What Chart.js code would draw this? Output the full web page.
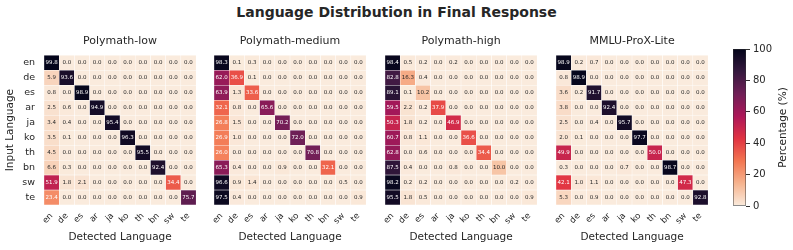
<!DOCTYPE html>
<html>
<head>
<meta charset="utf-8">
<script src="https://cdn.jsdelivr.net/npm/chart.js@4.4.0/dist/chart.umd.min.js"></script>
<style>
  body { margin: 0; background: #fff; width: 793px; height: 250px; position: relative; overflow: hidden; }
  canvas { position: absolute; }
  #title { position: absolute; top: 4px; left: 0; width: 793px; text-align: center; font: bold 14px "DejaVu Sans"; color: #262626; }
</style>
</head>
<body>
<div id="title">Language Distribution in Final Response</div>
<canvas id="c0" width="202" height="222"></canvas>
<canvas id="c1" width="202" height="222"></canvas>
<canvas id="c2" width="202" height="222"></canvas>
<canvas id="c3" width="202" height="222"></canvas>
<canvas id="cb" width="60" height="175"></canvas>
<script>
const languages = ['en', 'de', 'es', 'ar', 'ja', 'ko', 'th', 'bn', 'sw', 'te'];
const panelTitles = ['Polymath-low', 'Polymath-medium', 'Polymath-high', 'MMLU-ProX-Lite'];

const polymathLow = [
  [99.8, 0.0, 0.0, 0.0, 0.0, 0.0, 0.0, 0.0, 0.0, 0.0],
  [5.9, 93.6, 0.0, 0.0, 0.0, 0.0, 0.0, 0.0, 0.0, 0.0],
  [0.8, 0.0, 98.9, 0.0, 0.0, 0.0, 0.0, 0.0, 0.0, 0.0],
  [2.5, 0.6, 0.0, 94.9, 0.0, 0.0, 0.0, 0.0, 0.0, 0.0],
  [3.4, 0.4, 0.0, 0.0, 95.4, 0.0, 0.0, 0.0, 0.0, 0.0],
  [3.5, 0.1, 0.0, 0.0, 0.0, 96.3, 0.0, 0.0, 0.0, 0.0],
  [4.5, 0.0, 0.0, 0.0, 0.0, 0.0, 95.5, 0.0, 0.0, 0.0],
  [6.6, 0.3, 0.0, 0.0, 0.0, 0.0, 0.0, 92.4, 0.0, 0.0],
  [51.9, 1.8, 2.1, 0.0, 0.0, 0.0, 0.0, 0.0, 34.4, 0.0],
  [23.4, 0.0, 0.0, 0.0, 0.0, 0.0, 0.0, 0.0, 0.0, 75.7],
];
const polymathMedium = [
  [98.3, 0.1, 0.3, 0.0, 0.0, 0.0, 0.0, 0.0, 0.0, 0.0],
  [62.0, 36.9, 0.1, 0.0, 0.0, 0.0, 0.0, 0.0, 0.0, 0.0],
  [63.9, 1.3, 33.6, 0.0, 0.0, 0.0, 0.0, 0.0, 0.0, 0.0],
  [32.1, 0.8, 0.0, 65.6, 0.0, 0.0, 0.0, 0.0, 0.0, 0.0],
  [26.8, 1.5, 0.0, 0.0, 70.2, 0.0, 0.0, 0.0, 0.0, 0.0],
  [26.9, 1.0, 0.0, 0.0, 0.0, 72.0, 0.0, 0.0, 0.0, 0.0],
  [26.0, 0.0, 0.0, 0.0, 0.0, 0.0, 70.8, 0.0, 0.0, 0.0],
  [65.3, 0.4, 0.0, 0.0, 0.9, 0.0, 0.0, 32.1, 0.0, 0.0],
  [96.6, 0.9, 1.4, 0.0, 0.0, 0.0, 0.0, 0.0, 0.5, 0.0],
  [97.5, 0.4, 0.0, 0.0, 0.0, 0.0, 0.0, 0.0, 0.0, 0.9],
];
const polymathHigh = [
  [98.4, 0.5, 0.2, 0.0, 0.2, 0.0, 0.0, 0.0, 0.0, 0.0],
  [82.8, 16.3, 0.4, 0.0, 0.0, 0.0, 0.0, 0.0, 0.0, 0.0],
  [89.1, 0.1, 10.2, 0.0, 0.0, 0.0, 0.0, 0.0, 0.0, 0.0],
  [59.5, 2.2, 0.2, 37.9, 0.0, 0.0, 0.0, 0.0, 0.0, 0.0],
  [50.3, 1.8, 0.2, 0.0, 46.9, 0.0, 0.0, 0.0, 0.0, 0.0],
  [60.7, 0.8, 1.1, 0.0, 0.0, 36.6, 0.0, 0.0, 0.0, 0.0],
  [62.8, 0.0, 0.6, 0.0, 0.0, 0.0, 34.4, 0.0, 0.0, 0.0],
  [87.5, 0.4, 0.0, 0.0, 0.8, 0.0, 0.0, 10.0, 0.0, 0.0],
  [98.2, 0.2, 0.2, 0.0, 0.0, 0.0, 0.0, 0.0, 0.2, 0.0],
  [95.5, 1.8, 0.5, 0.0, 0.0, 0.0, 0.0, 0.0, 0.0, 0.9],
];
const mmluProxLite = [
  [98.9, 0.2, 0.7, 0.0, 0.0, 0.0, 0.0, 0.0, 0.0, 0.0],
  [0.8, 98.9, 0.0, 0.0, 0.0, 0.0, 0.0, 0.0, 0.0, 0.0],
  [3.6, 0.2, 91.7, 0.0, 0.0, 0.0, 0.0, 0.0, 0.0, 0.0],
  [3.8, 0.0, 0.0, 92.4, 0.0, 0.0, 0.0, 0.0, 0.0, 0.0],
  [2.5, 0.0, 0.4, 0.0, 95.7, 0.0, 0.0, 0.0, 0.0, 0.0],
  [2.0, 0.1, 0.0, 0.0, 0.0, 97.7, 0.0, 0.0, 0.0, 0.0],
  [49.9, 0.0, 0.0, 0.0, 0.0, 0.0, 50.0, 0.0, 0.0, 0.0],
  [0.3, 0.0, 0.0, 0.0, 0.7, 0.0, 0.0, 98.7, 0.0, 0.0],
  [42.1, 1.0, 1.1, 0.0, 0.0, 0.0, 0.0, 0.0, 47.3, 0.0],
  [5.3, 0.0, 0.9, 0.0, 0.0, 0.0, 0.0, 0.0, 0.0, 92.8],
];
const colorbarTicks = [0, 20, 40, 60, 80, 100];

const FONT = '"DejaVu Sans"';
const TEXT = '#262626';
const panelLefts = [44, 214, 385, 556];

// rocket_r, sampled
const rocketR = [
  [0, '#faebdd'], [1 / 7, '#f6b48f'], [2 / 7, '#f37651'], [3 / 7, '#e13342'],
  [4 / 7, '#ad1759'], [5 / 7, '#701f57'], [6 / 7, '#35193e'], [1, '#03051a'],
];

function hexRgb(h) {
  return [1, 3, 5].map((i) => parseInt(h.slice(i, i + 2), 16));
}

function rgbFor(v) {
  const t = Math.min(1, Math.max(0, v / 100));
  for (let i = 1; i < rocketR.length; i++) {
    if (t <= rocketR[i][0]) {
      const [t0, c0] = rocketR[i - 1];
      const [t1, c1] = rocketR[i];
      const f = (t - t0) / (t1 - t0);
      const a = hexRgb(c0);
      const b = hexRgb(c1);
      return a.map((x, k) => Math.round(x + (b[k] - x) * f));
    }
  }
  return hexRgb(rocketR[rocketR.length - 1][1]);
}

function colorFor(v) {
  const [r, g, b] = rgbFor(v);
  return `rgb(${r},${g},${b})`;
}

function textColorFor(v) {
  const lin = rgbFor(v).map((c) => {
    const s = c / 255;
    return s <= 0.03928 ? s / 12.92 : Math.pow((s + 0.055) / 1.055, 2.4);
  });
  const lum = 0.2126 * lin[0] + 0.7152 * lin[1] + 0.0722 * lin[2];
  return lum > 0.408 ? TEXT : '#ffffff';
}

function cellLabels(grid) {
  return {
    id: 'cellLabels',
    afterDatasetsDraw(chart) {
      const { ctx } = chart;
      ctx.save();
      ctx.font = `5.5px ${FONT}`;
      ctx.textAlign = 'center';
      ctx.textBaseline = 'middle';
      chart.data.datasets.forEach((ds, r) => {
        chart.getDatasetMeta(r).data.forEach((bar, j) => {
          const v = grid[r][j];
          const { x, y } = bar.getCenterPoint();
          ctx.fillStyle = textColorFor(v);
          ctx.fillText(v.toFixed(1), x, y);
        });
      });
      ctx.restore();
    },
  };
}

function createHeatmap(id, idx, title, grid) {
  const canvas = document.getElementById(id);
  canvas.style.left = `${panelLefts[idx] - 44}px`;
  canvas.style.top = '28px';
  const showY = idx === 0;

  new Chart(canvas, {
    type: 'bar',
    data: {
      labels: languages,
      datasets: grid.map((row, r) => ({
        data: row.map(() => [r, r + 1]),
        backgroundColor: row.map(colorFor),
        borderColor: '#ffffff',
        borderWidth: 0.5,
        borderSkipped: false,
        barPercentage: 1,
        categoryPercentage: 1,
        grouped: false,
      })),
    },
    options: {
      responsive: false,
      animation: false,
      layout: { padding: { right: 4 } },
      plugins: {
        legend: { display: false },
        tooltip: { enabled: false },
        title: {
          display: true,
          text: title,
          fullSize: false,
          color: TEXT,
          font: { family: FONT, size: 11, weight: 'normal' },
          padding: { top: 7, bottom: 7 },
        },
      },
      scales: {
        x: {
          grid: { display: false, drawTicks: false, tickLength: 0 },
          border: { display: false },
          ticks: {
            color: TEXT,
            font: { family: FONT, size: 8.5 },
            minRotation: 45,
            maxRotation: 45,
            autoSkip: false,
            padding: 6,
          },
          title: {
            display: true,
            text: 'Detected Language',
            color: TEXT,
            font: { family: FONT, size: 10.5 },
            padding: { top: 0, bottom: 6 },
          },
          afterFit: (s) => { s.height = 45; },
        },
        y: {
          min: 0,
          max: 10,
          reverse: true,
          grid: { display: false, drawTicks: false, tickLength: 0 },
          border: { display: false },
          afterBuildTicks: (s) => { s.ticks = languages.map((_, i) => ({ value: i + 0.5 })); },
          ticks: {
            display: showY,
            color: TEXT,
            font: { family: FONT, size: 9.5 },
            padding: 9,
            callback: (v, i) => languages[i],
          },
          title: {
            display: showY,
            text: 'Input Language',
            color: TEXT,
            font: { family: FONT, size: 10.5 },
            padding: { top: 4, bottom: 0 },
          },
          afterFit: (s) => { s.width = 44; },
        },
      },
    },
    plugins: [cellLabels(grid)],
  });
}

createHeatmap('c0', 0, panelTitles[0], polymathLow);
createHeatmap('c1', 1, panelTitles[1], polymathMedium);
createHeatmap('c2', 2, panelTitles[2], polymathHigh);
createHeatmap('c3', 3, panelTitles[3], mmluProxLite);

// colorbar
const colorbarLabel = {
  id: 'colorbarLabel',
  afterDraw(chart) {
    const { ctx, chartArea } = chart;
    ctx.save();
    ctx.translate(chart.width - 10, (chartArea.top + chartArea.bottom) / 2);
    ctx.rotate(-Math.PI / 2);
    ctx.font = `10.5px ${FONT}`;
    ctx.fillStyle = TEXT;
    ctx.textAlign = 'center';
    ctx.textBaseline = 'middle';
    ctx.fillText('Percentage (%)', 0, 0);
    ctx.restore();
  },
};

const cb = document.getElementById('cb');
cb.style.left = '733px';
cb.style.top = '40px';
new Chart(cb, {
  type: 'bar',
  data: {
    labels: [''],
    datasets: [{
      data: [[colorbarTicks[0], colorbarTicks[colorbarTicks.length - 1]]],
      backgroundColor: (c) => {
        const area = c.chart.chartArea;
        if (!area || !isFinite(area.top) || !isFinite(area.bottom)) return '#faebdd';
        const g = c.chart.ctx.createLinearGradient(0, area.bottom, 0, area.top);
        rocketR.forEach(([t, col]) => g.addColorStop(t, col));
        return g;
      },
      borderColor: '#333333',
      borderWidth: 0.8,
      borderSkipped: false,
      barPercentage: 1,
      categoryPercentage: 1,
    }],
  },
  options: {
    responsive: false,
    animation: false,
    layout: { padding: { top: 8, bottom: 8 } },
    plugins: { legend: { display: false }, tooltip: { enabled: false } },
    scales: {
      x: { display: false },
      y: {
        position: 'right',
        min: 0,
        max: 100,
        afterBuildTicks: (s) => { s.ticks = colorbarTicks.map((v) => ({ value: v })); },
        ticks: { color: TEXT, font: { family: FONT, size: 10 }, padding: 3 },
        grid: { drawOnChartArea: false, tickLength: 4, color: '#333333' },
        border: { display: false },
        afterFit: (s) => { s.width = 47; },
      },
    },
  },
  plugins: [colorbarLabel],
});
</script>
</body>
</html>
